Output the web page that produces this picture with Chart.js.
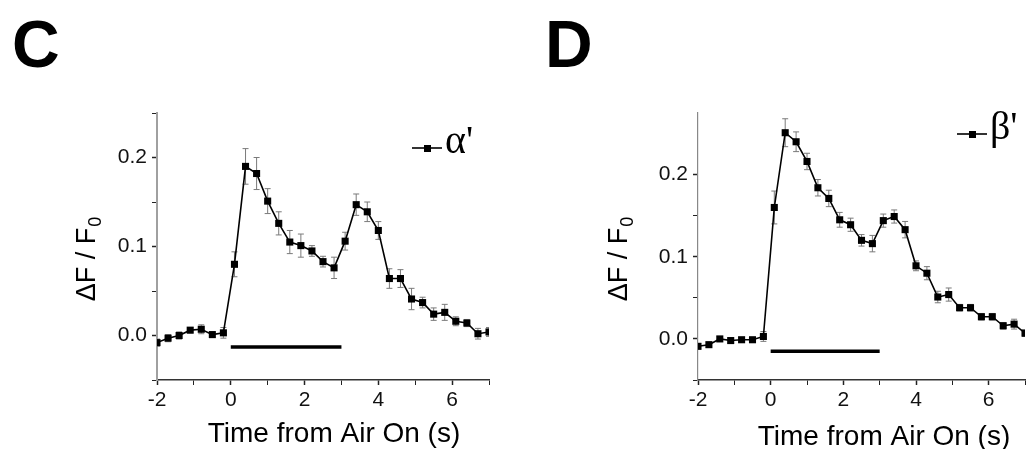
<!DOCTYPE html>
<html>
<head>
<meta charset="utf-8">
<script src="https://cdn.jsdelivr.net/npm/chart.js@4.4.0/dist/chart.umd.min.js"></script>
<style>
  html, body { margin: 0; padding: 0; background: #fff; overflow: hidden; width: 1030px; height: 449px; }
  .panel { position: absolute; top: 0; width: 515px; height: 449px; }
  .letter { position: absolute; top: 11px; font: bold 66px Arial, "Liberation Sans", sans-serif; line-height: 1; color: #000; }
</style>
</head>
<body>
<div class="panel" style="left:0"><canvas id="chartC"></canvas></div>
<div class="panel" style="left:515px"><canvas id="chartD"></canvas></div>
<div class="letter" style="left:12px">C</div>
<div class="letter" style="left:545px">D</div>

<script>
// --------- Data ----------
const timeS = [-2.0, -1.7, -1.4, -1.1, -0.8, -0.5, -0.2, 0.1, 0.4, 0.7, 1.0, 1.3, 1.6, 1.9, 2.2, 2.5,
               2.8, 3.1, 3.4, 3.7, 4.0, 4.3, 4.6, 4.9, 5.2, 5.5, 5.8, 6.1, 6.4, 6.7, 7.0];

const alphaMean = [-0.008, -0.003, 0.000, 0.006, 0.007, 0.001, 0.003, 0.080, 0.190, 0.182, 0.151,
                   0.126, 0.105, 0.101, 0.095, 0.083, 0.076, 0.106, 0.147, 0.139, 0.118, 0.064,
                   0.064, 0.041, 0.037, 0.024, 0.026, 0.016, 0.014, 0.002, 0.004];
const alphaErr  = [0.004, 0.004, 0.004, 0.003, 0.005, 0.003, 0.006, 0.014, 0.020, 0.018, 0.014,
                   0.013, 0.013, 0.013, 0.006, 0.006, 0.012, 0.010, 0.012, 0.011, 0.010, 0.011,
                   0.010, 0.012, 0.006, 0.007, 0.009, 0.005, 0.004, 0.006, 0.005];

const betaMean  = [-0.009, -0.007, 0.000, -0.002, -0.001, -0.001, 0.003, 0.160, 0.251, 0.240, 0.216,
                   0.184, 0.171, 0.145, 0.139, 0.120, 0.116, 0.144, 0.149, 0.133, 0.089, 0.080,
                   0.051, 0.054, 0.038, 0.038, 0.027, 0.027, 0.016, 0.018, 0.007];
const betaErr   = [0.003, 0.003, 0.003, 0.003, 0.003, 0.003, 0.006, 0.020, 0.017, 0.012, 0.010,
                   0.010, 0.010, 0.009, 0.008, 0.007, 0.010, 0.008, 0.008, 0.010, 0.006, 0.008,
                   0.007, 0.008, 0.004, 0.004, 0.004, 0.004, 0.004, 0.006, 0.004];

// air-on stimulus bar (start / end time, drawn just below zero)
const airOnX   = [0, 3];
const airOnYC  = [-0.013, -0.013];
const airOnYD  = [-0.015, -0.015];

const xTicksMajor = [-2, 0, 2, 4, 6];
const yTicksMajor = [0.0, 0.1, 0.2];

const SANS  = 'Arial, "Liberation Sans", sans-serif';
const SERIF = '"Times New Roman", "Liberation Serif", serif';
Chart.defaults.font.family = SANS;

// --------- Plugins ----------
// error bars: thin grey whiskers with caps, under the squares
const errorBars = {
  id: 'errorBars',
  beforeDatasetsDraw(chart) {
    const ds = chart.data.datasets[0];
    const { x, y } = chart.scales;
    const a = chart.chartArea;
    const ctx = chart.ctx;
    ctx.save();
    ctx.beginPath();
    ctx.rect(a.left, a.top, a.right - a.left, a.bottom - a.top);
    ctx.clip();
    ctx.strokeStyle = '#7a7a7a';
    ctx.lineWidth = 1;
    ds.data.forEach((p, i) => {
      const e = ds.errors[i];
      const px = x.getPixelForValue(p.x);
      const top = y.getPixelForValue(p.y + e);
      const bot = y.getPixelForValue(p.y - e);
      ctx.beginPath();
      ctx.moveTo(px, top); ctx.lineTo(px, bot);
      ctx.moveTo(px - 3, top); ctx.lineTo(px + 3, top);
      ctx.moveTo(px - 3, bot); ctx.lineTo(px + 3, bot);
      ctx.stroke();
    });
    ctx.restore();
  }
};

// axis titles (with subscript) and the little inline legend
const panelText = {
  id: 'panelText',
  afterDraw(chart, args, o) {
    const ctx = chart.ctx;
    ctx.save();
    ctx.fillStyle = '#000';

    // y title: "ΔF / F" + subscript 0, rotated
    ctx.translate(o.yBase, o.yMid);
    ctx.rotate(-Math.PI / 2);
    ctx.font = '27px ' + SANS;
    const main = 'ΔF / F';
    const wm = ctx.measureText(main).width;
    ctx.font = '18px ' + SANS;
    const ws = ctx.measureText('0').width;
    const start = -(wm + ws + 1) / 2;
    ctx.textBaseline = 'alphabetic';
    ctx.font = '27px ' + SANS;
    ctx.fillText(main, start, 0);
    ctx.font = '18px ' + SANS;
    ctx.fillText('0', start + wm + 1, 6);
    ctx.setTransform(1, 0, 0, 1, 0, 0);
    ctx.scale(chart.currentDevicePixelRatio, chart.currentDevicePixelRatio);

    // x title
    ctx.font = '28px ' + SANS;
    ctx.textAlign = 'center';
    ctx.fillText('Time from Air On (s)', o.xMid, o.xBase);

    // legend: line with square marker + serif label
    const ds = chart.data.datasets[0];
    ctx.strokeStyle = '#000';
    ctx.lineWidth = 1.6;
    ctx.beginPath();
    ctx.moveTo(o.legX, o.legY);
    ctx.lineTo(o.legX + 30, o.legY);
    ctx.stroke();
    ctx.fillRect(o.legX + 12, o.legY - 3, 7, 7);
    ctx.textAlign = 'left';
    ctx.font = '40px ' + SERIF;
    ctx.fillText(ds.label, o.legX + 33, o.legY + 5);
    ctx.restore();
  }
};

function isMultiple(v, step) {
  return Math.abs(v / step - Math.round(v / step)) < 1e-6;
}

function yLabel(v) {
  const m = yTicksMajor.find(t => Math.abs(t - v) < 1e-6);
  return m === undefined ? '' : m.toFixed(1);
}

// --------- Chart factory ----------
function makeChart(id, mean, err, label, barY, yMax, look) {
  return new Chart(document.getElementById(id), {
    type: 'line',
    data: {
      datasets: [
        {
          label: label,
          data: timeS.map((t, i) => ({ x: t, y: mean[i] })),
          errors: err,
          borderColor: '#000',
          borderWidth: 1.6,
          pointStyle: 'rect',
          pointRadius: 5,
          pointBackgroundColor: '#000',
          pointBorderWidth: 0,
          tension: 0
        },
        {
          label: 'Air on',
          data: airOnX.map((t, i) => ({ x: t, y: barY[i] })),
          borderColor: '#000',
          borderWidth: 3.5,
          pointRadius: 0
        }
      ]
    },
    options: {
      responsive: true,
      maintainAspectRatio: false,
      animation: false,
      layout: { padding: { left: 0, right: look.padRight, top: 113, bottom: 0 } },
      plugins: {
        legend: { display: false },
        tooltip: { enabled: false },
        panelText: look
      },
      scales: {
        x: {
          type: 'linear',
          min: -2,
          max: 7,
          afterFit: s => { s.height = 69; },
          border: { color: '#333', width: 1.5 },
          grid: {
            drawOnChartArea: false,
            tickLength: 5,
            tickColor: '#222',
            tickWidth: c => (c.tick && xTicksMajor.includes(c.tick.value) ? 1.5 : 1)
          },
          ticks: {
            stepSize: 1,
            autoSkip: false,
            maxRotation: 0,
            padding: 3,
            color: '#111',
            font: { size: 21 },
            callback: v => (xTicksMajor.includes(v) ? String(v) : '')
          }
        },
        y: {
          type: 'linear',
          min: -0.05,
          max: yMax,
          afterFit: s => { s.width = look.yWidth; },
          afterBuildTicks: s => { s.ticks = s.ticks.filter(t => isMultiple(t.value, 0.05)); },
          border: { color: look.yAxisColor, width: look.yAxisWidth },
          grid: {
            drawOnChartArea: false,
            tickLength: 5,
            tickColor: '#222',
            tickWidth: c => (c.tick && isMultiple(c.tick.value, 0.1) ? 1.5 : 1)
          },
          ticks: {
            stepSize: 0.05,
            autoSkip: false,
            padding: 5,
            color: '#111',
            font: { size: 21 },
            callback: v => yLabel(v)
          }
        }
      }
    },
    plugins: [errorBars, panelText]
  });
}

// --------- Init ----------
makeChart('chartC', alphaMean, alphaErr, "α'", airOnYC, 0.25, {
  padRight: 26, yWidth: 157, yAxisColor: '#a0a0a0', yAxisWidth: 2,
  yBase: 95, yMid: 259, xMid: 334, xBase: 442, legX: 412, legY: 148
});
makeChart('chartD', betaMean, betaErr, "β'", airOnYD, 0.275, {
  padRight: 0, yWidth: 183, yAxisColor: '#888', yAxisWidth: 1.2,
  yBase: 112, yMid: 259, xMid: 369, xBase: 445, legX: 442, legY: 134
});
</script>
</body>
</html>
